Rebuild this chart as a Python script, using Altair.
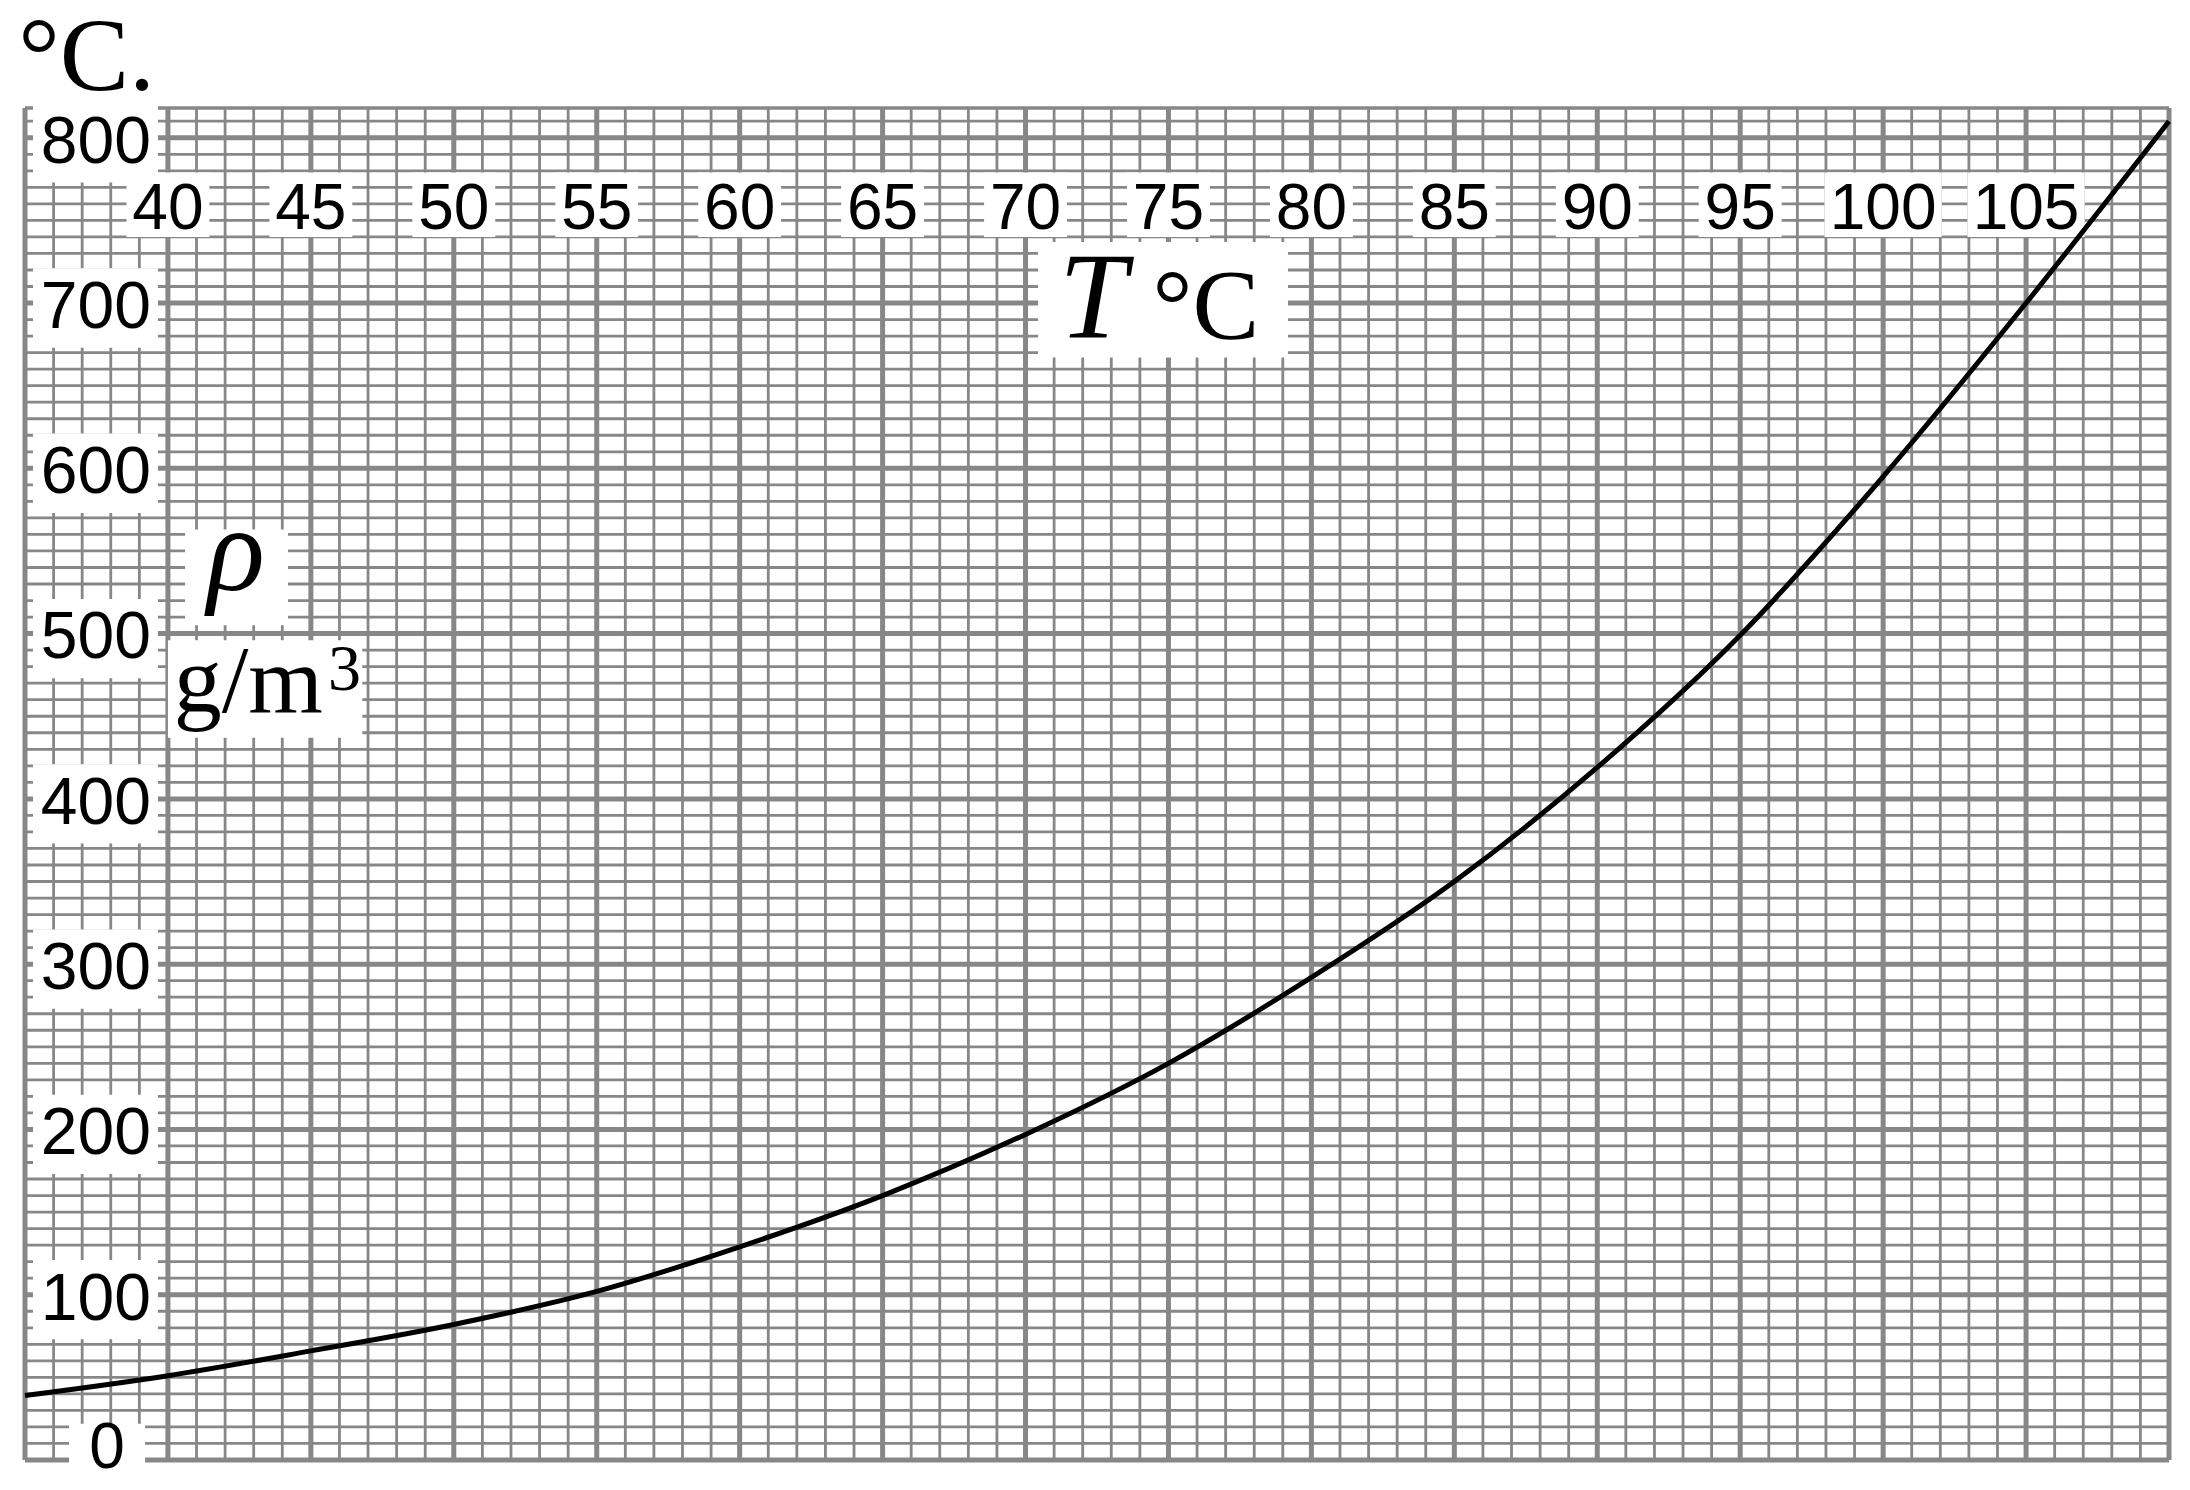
import altair as alt
import pandas as pd

# ---- data ----
temps = [35, 40, 45, 50, 55, 60, 65, 70, 75, 80, 85, 90, 95, 100, 105, 110]
rho = [39, 51, 66, 82, 102, 129, 160, 197, 240, 292, 350, 419, 499, 595, 700, 810]

x_tick_values = [40, 45, 50, 55, 60, 65, 70, 75, 80, 85, 90, 95, 100, 105]
x_tick_labels = [str(v) for v in x_tick_values]
y_tick_values = [100, 200, 300, 400, 500, 600, 700, 800]
y_tick_labels = [str(v) for v in y_tick_values]
zero_label = ["0"]

x_min, x_max = 35, 110
y_min, y_max = 0, 818

W, H = 2144, 1352
GRID = "#878787"

xs = alt.Scale(domain=[x_min, x_max], nice=False, zero=False)
ys = alt.Scale(domain=[y_min, y_max], nice=False, zero=False)

minor_x = [v for v in range(x_min, x_max + 1) if v % 5 != 0]
major_x = [v for v in range(x_min, x_max + 1) if v % 5 == 0]
minor_y = [v for v in range(10, 818, 10) if v % 100 != 0]
major_y = [v for v in range(0, 801, 100)]


def vrules(vals, width):
    return alt.Chart(pd.DataFrame({"gx": vals})).mark_rule(
        color=GRID, strokeWidth=width
    ).encode(x=alt.X("gx:Q", scale=xs, axis=None))


def hrules(vals, width):
    return alt.Chart(pd.DataFrame({"gy": vals})).mark_rule(
        color=GRID, strokeWidth=width
    ).encode(y=alt.Y("gy:Q", scale=ys, axis=None))


grid = [
    vrules(minor_x, 2.8),
    hrules(minor_y, 2.8),
    vrules(major_x, 5),
    hrules(major_y, 5),
    hrules([y_max], 3.6),
]


# ---- white label boxes ----
def boxes(df):
    return alt.Chart(df).mark_rect(color="white").encode(
        x=alt.X("bx1:Q", scale=xs, axis=None),
        x2="bx2:Q",
        y=alt.Y("by1:Q", scale=ys, axis=None),
        y2="by2:Q",
    )


xbox = pd.DataFrame({
    "bx1": [v - (2.05 if len(s) == 3 else 1.45) for v, s in zip(x_tick_values, x_tick_labels)],
    "bx2": [v + (2.05 if len(s) == 3 else 1.45) for v, s in zip(x_tick_values, x_tick_labels)],
    "by1": [740] * len(x_tick_values),
    "by2": [779] * len(x_tick_values),
})
ybox = pd.DataFrame({
    "bx1": [35.28] * len(y_tick_values),
    "bx2": [39.65] * len(y_tick_values),
    "by1": [v - 27 for v in y_tick_values],
    "by2": [v + 21 for v in y_tick_values],
})
other_box = pd.DataFrame({
    "bx1": [36.54, 70.44, 40.60, 40.00],
    "bx2": [39.20, 79.18, 44.20, 46.80],
    "by1": [-9, 667, 505, 437],
    "by2": [22, 737, 563, 496],
})

box_layers = [boxes(xbox), boxes(ybox), boxes(other_box)]

# ---- curve ----
curve = alt.Chart(pd.DataFrame({"T": temps, "rho": rho})).mark_line(
    color="black", strokeWidth=5, interpolate="monotone"
).encode(
    x=alt.X("T:Q", scale=xs, axis=None),
    y=alt.Y("rho:Q", scale=ys, axis=None),
)


# ---- texts ----
def text_layer(df, **kw):
    base = dict(color="black", baseline="alphabetic")
    base.update(kw)
    return alt.Chart(df).mark_text(**base).encode(
        x=alt.X("tx:Q", scale=xs, axis=None),
        y=alt.Y("ty:Q", scale=ys, axis=None),
        text="label:N",
    )


xlab = text_layer(
    pd.DataFrame({"tx": x_tick_values, "ty": [744.5] * len(x_tick_values), "label": x_tick_labels}),
    font="Liberation Sans", fontSize=64, align="center",
)
ylab = text_layer(
    pd.DataFrame({"tx": [37.48] * len(y_tick_values), "ty": [v - 15 for v in y_tick_values], "label": y_tick_labels}),
    font="Liberation Sans", fontSize=66, align="center",
)
zlab = text_layer(
    pd.DataFrame({"tx": [37.87], "ty": [-5.0], "label": zero_label}),
    font="Liberation Sans", fontSize=64, align="center",
)
t_lab = text_layer(
    pd.DataFrame({"tx": [72.36], "ty": [679.5], "label": ["T"]}),
    font="Liberation Serif", fontSize=122, fontStyle="italic", align="center",
)
degc_lab = text_layer(
    pd.DataFrame({"tx": [76.31], "ty": [679.0], "label": ["°C"]}),
    font="Liberation Serif", fontSize=100, align="center",
)
rho_lab = text_layer(
    pd.DataFrame({"tx": [42.38], "ty": [526.4], "label": ["ρ"]}),
    font="Liberation Serif", fontSize=120, fontStyle="italic", align="center",
)
unit_lab = text_layer(
    pd.DataFrame({"tx": [40.2], "ty": [452.6], "label": ["g/m"]}),
    font="Liberation Serif", fontSize=96, align="left",
)
sup_lab = text_layer(
    pd.DataFrame({"tx": [45.6], "ty": [466.0], "label": ["3"]}),
    font="Liberation Serif", fontSize=66, align="left",
)
corner_lab = text_layer(
    pd.DataFrame({"tx": [34.76], "ty": [829.0], "label": ["°C."]}),
    font="Liberation Serif", fontSize=104, align="left",
)

chart = alt.layer(
    *grid, *box_layers, curve,
    xlab, ylab, zlab, t_lab, degc_lab, rho_lab, unit_lab, sup_lab, corner_lab,
).properties(
    width=W,
    height=H,
    padding={"left": 17, "top": 100, "right": 5, "bottom": 22},
    autosize=alt.AutoSizeParams(type="none"),
    background="white",
).configure_view(stroke=None)

chart.save("out.html", embed_options={"renderer": "svg", "actions": False})
